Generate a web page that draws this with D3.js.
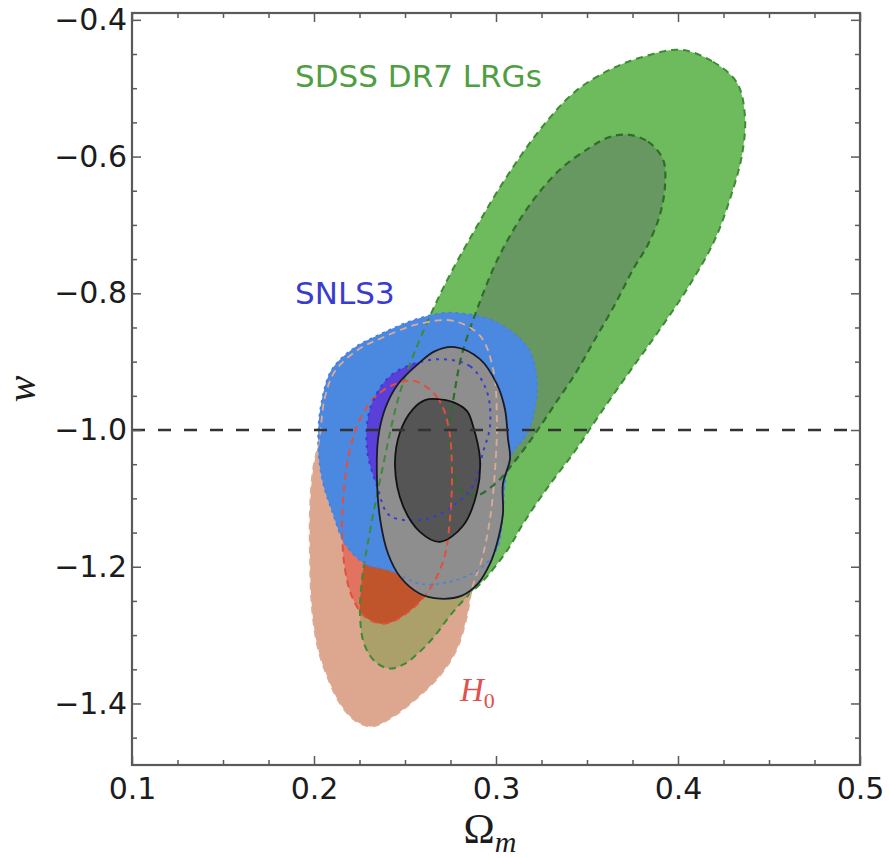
<!DOCTYPE html>
<html><head><meta charset="utf-8">
<script src="https://cdn.jsdelivr.net/npm/d3@7"></script>
<style>body{margin:0;background:#fff}svg{display:block}</style>
</head><body>
<svg id="c" width="889" height="858"></svg>
<script>
// ---- data (Omega_m, w) ----
const xTicks = [0.1, 0.2, 0.3, 0.4, 0.5];
const yTicks = [-1.4, -1.2, -1.0, -0.8, -0.6, -0.4];
const xMinor = [0.125,0.15,0.175,0.225,0.25,0.275,0.325,0.35,0.375,0.425,0.45,0.475];
const yMinor = [-1.45,-1.35,-1.3,-1.25,-1.15,-1.1,-1.05,-0.95,-0.9,-0.85,-0.75,-0.7,-0.65,-0.55,-0.5,-0.45];
const referenceW = -1.0;

const lrgOuter = [[0.4011,-0.4438],[0.4192,-0.4613],[0.4324,-0.4920],[0.4368,-0.5416],[0.4352,-0.5971],[0.4302,-0.6482],[0.4203,-0.7212],[0.4066,-0.7869],[0.3901,-0.8526],[0.3736,-0.9139],[0.3571,-0.9766],[0.3434,-1.0307],[0.3286,-1.0832],[0.3159,-1.1328],[0.3060,-1.1766],[0.2940,-1.2175],[0.2830,-1.2467],[0.2747,-1.2715],[0.2665,-1.3007],[0.2582,-1.3241],[0.2500,-1.3416],[0.2418,-1.3489],[0.2335,-1.3387],[0.2275,-1.3124],[0.2253,-1.2715],[0.2264,-1.2175],[0.2297,-1.1635],[0.2379,-1.0526],[0.2473,-0.9445],[0.2582,-0.8672],[0.2720,-0.7869],[0.2885,-0.7066],[0.3049,-0.6336],[0.3242,-0.5606],[0.3434,-0.5051],[0.3626,-0.4730],[0.3791,-0.4555]];
const lrgInner = [[0.3720,-0.5679],[0.3835,-0.5781],[0.3918,-0.6044],[0.3929,-0.6409],[0.3901,-0.6847],[0.3835,-0.7285],[0.3753,-0.7650],[0.3654,-0.8161],[0.3544,-0.8672],[0.3434,-0.9182],[0.3324,-0.9620],[0.3214,-1.0058],[0.3104,-1.0453],[0.2995,-1.0788],[0.2885,-1.0963],[0.2802,-1.0861],[0.2758,-1.0496],[0.2747,-0.9985],[0.2775,-0.9401],[0.2813,-0.8891],[0.2896,-0.8234],[0.3022,-0.7431],[0.3187,-0.6701],[0.3352,-0.6190],[0.3516,-0.5869],[0.3615,-0.5723]];
const h0Outer = [[0.2030,-1.0131],[0.2058,-0.9547],[0.2115,-0.9140],[0.2240,-0.8830],[0.2375,-0.8650],[0.2560,-0.8460],[0.2760,-0.8400],[0.2912,-0.8620],[0.2984,-0.9109],[0.3005,-0.9839],[0.2995,-1.0569],[0.2967,-1.1299],[0.2923,-1.1883],[0.2868,-1.2321],[0.2841,-1.2715],[0.2786,-1.3197],[0.2692,-1.3591],[0.2544,-1.3971],[0.2418,-1.4219],[0.2319,-1.4336],[0.2225,-1.4248],[0.2143,-1.4000],[0.2077,-1.3635],[0.2022,-1.3197],[0.1989,-1.2613],[0.1978,-1.1883],[0.1978,-1.1153],[0.1995,-1.0569]];
const h0Inner = [[0.2555,-0.9285],[0.2676,-0.9518],[0.2736,-0.9912],[0.2758,-1.0569],[0.2747,-1.1299],[0.2714,-1.1883],[0.2637,-1.2321],[0.2527,-1.2642],[0.2390,-1.2832],[0.2280,-1.2730],[0.2209,-1.2438],[0.2170,-1.2029],[0.2154,-1.1445],[0.2165,-1.0861],[0.2198,-1.0277],[0.2253,-0.9839],[0.2335,-0.9518],[0.2445,-0.9328]];
const snOuter = [[0.2802,-0.8292],[0.2967,-0.8380],[0.3104,-0.8599],[0.3187,-0.8847],[0.3225,-0.9255],[0.3214,-0.9693],[0.3170,-1.0058],[0.3088,-1.0350],[0.3049,-1.0788],[0.3038,-1.1255],[0.3005,-1.1737],[0.2912,-1.2029],[0.2747,-1.2219],[0.2582,-1.2248],[0.2418,-1.2058],[0.2280,-1.1956],[0.2170,-1.1664],[0.2104,-1.1226],[0.2044,-1.0715],[0.2022,-1.0131],[0.2044,-0.9547],[0.2099,-0.9109],[0.2225,-0.8788],[0.2363,-0.8599],[0.2527,-0.8409],[0.2692,-0.8292]];
const snInner = [[0.2692,-0.8964],[0.2857,-0.9066],[0.2951,-0.9445],[0.2967,-0.9942],[0.2929,-1.0321],[0.2874,-1.0818],[0.2764,-1.1109],[0.2621,-1.1299],[0.2418,-1.1255],[0.2346,-1.0818],[0.2291,-1.0277],[0.2308,-0.9693],[0.2401,-0.9255],[0.2511,-0.9066]];
const combOuter = [[0.2775,-0.8788],[0.2912,-0.8964],[0.3005,-0.9328],[0.3049,-0.9693],[0.3066,-1.0131],[0.3077,-1.0423],[0.3038,-1.0788],[0.3038,-1.1226],[0.3005,-1.1664],[0.2967,-1.1956],[0.2901,-1.2248],[0.2813,-1.2423],[0.2692,-1.2467],[0.2582,-1.2394],[0.2473,-1.2146],[0.2407,-1.1810],[0.2363,-1.1299],[0.2346,-1.0715],[0.2352,-1.0131],[0.2390,-0.9693],[0.2462,-0.9328],[0.2571,-0.9036],[0.2665,-0.8847]];
const combInner = [[0.2676,-0.9547],[0.2764,-0.9591],[0.2841,-0.9723],[0.2874,-0.9942],[0.2912,-1.0423],[0.2896,-1.0905],[0.2819,-1.1401],[0.2692,-1.1635],[0.2582,-1.1489],[0.2489,-1.1109],[0.2445,-1.0526],[0.2473,-1.0029],[0.2544,-0.9693],[0.2610,-0.9562]];

const labels = [
  {text:"SDSS DR7 LRGs", at:[0.1896,-0.4978], color:"#4f9e42"},
  {text:"SNLS3", at:[0.1896,-0.816], color:"#3a3ccf"}
];
const h0Label = {at:[0.2802,-1.397], color:"#e05050"};

// ---- layout ----
const svg = d3.select("#c");
const x = d3.scaleLinear().domain([0.1,0.5]).range([132,860]);
const y = d3.scaleLinear().domain([-1.49,-0.39]).range([765,13]);
const line = d3.line().x(d=>x(d[0])).y(d=>y(d[1])).curve(d3.curveCatmullRomClosed.alpha(0.5));

const defs = svg.append("defs");
defs.append("clipPath").attr("id","plotClip").append("rect")
  .attr("x",x(0.1)).attr("y",y(-0.39)).attr("width",x(0.5)-x(0.1)).attr("height",y(-1.49)-y(-0.39));
defs.append("clipPath").attr("id","lrgClip").append("path").attr("d",line(lrgOuter));

const g = svg.append("g").attr("clip-path","url(#plotClip)");
// fills
g.append("path").attr("d",line(lrgOuter)).attr("fill","#6dbb5c");
g.append("path").attr("d",line(lrgInner)).attr("fill","#689862");
g.append("path").attr("d",line(h0Outer)).attr("fill","#dca78e");
g.append("path").attr("d",line(h0Outer)).attr("fill","#ab9f6a").attr("clip-path","url(#lrgClip)");
g.append("path").attr("d",line(h0Inner)).attr("fill","#e27360");
g.append("path").attr("d",line(h0Inner)).attr("fill","#c0542a").attr("clip-path","url(#lrgClip)");
g.append("path").attr("d",line(snOuter)).attr("fill","#4b89e0");
g.append("path").attr("d",line(snInner)).attr("fill","#5a3fd8");
g.append("path").attr("d",line(combOuter)).attr("fill","#8e8e8e");
g.append("path").attr("d",line(combInner)).attr("fill","#555555");
// outlines
const outl = (data, col, w, dash) => g.append("path").attr("d",line(data)).attr("fill","none")
  .attr("stroke",col).attr("stroke-width",w).attr("stroke-dasharray",dash);
outl(lrgOuter,"#3f8a35",2,"7,5");
outl(lrgInner,"#2f6d2a",2.2,"7,5");
outl(h0Outer,"#dcab96",1.8,"7,5");
outl(h0Inner,"#e0503c",2,"7,5");
outl(snOuter,"#4a7fe0",1.5,"3,4");
outl(snInner,"#3a3ad0",2,"3,5");
outl(combOuter,"#1a1a2a",1.8,null);
outl(combInner,"#111",1.8,null);

// reference line
g.append("line").attr("x1",x(0.1)).attr("x2",x(0.5)).attr("y1",y(referenceW)).attr("y2",y(referenceW))
  .attr("stroke","#333").attr("stroke-width",2.6).attr("stroke-dasharray","13,13");

// axes
const frameCol = "#5a5a5a";
const fmt = d3.format(".1f");
function styleAxis(sel){ sel.select(".domain").remove(); sel.selectAll("line").attr("stroke",frameCol).attr("stroke-width",1.5);
  sel.selectAll("text").attr("font-family","DejaVu Sans").attr("font-size",30).attr("fill","#1c1c1c"); }
svg.append("g").attr("transform",`translate(0,${y(-1.49)})`)
  .call(d3.axisBottom(x).tickValues(xTicks).tickFormat(fmt).tickSizeInner(-9).tickSizeOuter(0).tickPadding(13)).call(styleAxis);
svg.append("g").attr("transform",`translate(0,${y(-1.49)})`)
  .call(d3.axisBottom(x).tickValues(xMinor).tickFormat("").tickSizeInner(-5).tickSizeOuter(0)).call(styleAxis);
svg.append("g").attr("transform",`translate(0,${y(-0.39)})`)
  .call(d3.axisTop(x).tickValues(xTicks).tickFormat("").tickSizeInner(-9).tickSizeOuter(0)).call(styleAxis);
svg.append("g").attr("transform",`translate(0,${y(-0.39)})`)
  .call(d3.axisTop(x).tickValues(xMinor).tickFormat("").tickSizeInner(-5).tickSizeOuter(0)).call(styleAxis);
svg.append("g").attr("transform",`translate(${x(0.1)},0)`)
  .call(d3.axisLeft(y).tickValues(yTicks).tickFormat(fmt).tickSizeInner(-9).tickSizeOuter(0).tickPadding(5)).call(styleAxis);
svg.append("g").attr("transform",`translate(${x(0.1)},0)`)
  .call(d3.axisLeft(y).tickValues(yMinor).tickFormat("").tickSizeInner(-5).tickSizeOuter(0)).call(styleAxis);
svg.append("g").attr("transform",`translate(${x(0.5)},0)`)
  .call(d3.axisRight(y).tickValues(yTicks).tickFormat("").tickSizeInner(-9).tickSizeOuter(0)).call(styleAxis);
svg.append("g").attr("transform",`translate(${x(0.5)},0)`)
  .call(d3.axisRight(y).tickValues(yMinor).tickFormat("").tickSizeInner(-5).tickSizeOuter(0)).call(styleAxis);
svg.append("rect").attr("x",x(0.1)).attr("y",y(-0.39)).attr("width",x(0.5)-x(0.1)).attr("height",y(-1.49)-y(-0.39))
  .attr("fill","none").attr("stroke",frameCol).attr("stroke-width",2.2);

// annotations
labels.forEach(l => svg.append("text").attr("x",x(l.at[0])).attr("y",y(l.at[1])).text(l.text)
  .attr("font-family","DejaVu Sans").attr("font-size",31).attr("fill",l.color));
const h0 = svg.append("text").attr("x",x(h0Label.at[0])).attr("y",y(h0Label.at[1]))
  .attr("font-family","Liberation Serif").attr("font-style","italic").attr("font-size",33).attr("fill",h0Label.color);
h0.append("tspan").text("H");
h0.append("tspan").attr("font-style","normal").attr("font-size",22).attr("dy",7).text("0");

// axis titles
const xl = svg.append("text").attr("x",490).attr("y",843).attr("text-anchor","middle")
  .attr("font-family","Liberation Serif").attr("font-size",42).attr("fill","#1c1c1c");
xl.append("tspan").text("Ω");
xl.append("tspan").attr("font-style","italic").attr("font-size",30).attr("dy",9).text("m");
svg.append("text").attr("transform","translate(35,389) rotate(-90)").attr("text-anchor","middle")
  .attr("font-family","Liberation Serif").attr("font-style","italic").attr("font-size",40).attr("fill","#1c1c1c").text("w");
</script>
</body></html>
